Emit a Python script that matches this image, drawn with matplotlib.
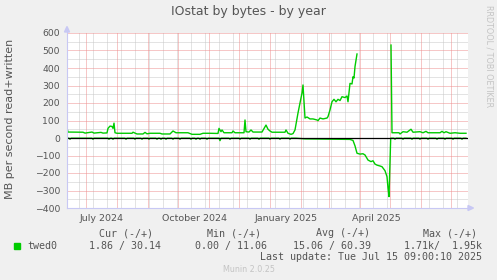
import datetime as dt
import numpy as np
import matplotlib
matplotlib.use("Agg")
import matplotlib.pyplot as plt
from matplotlib.transforms import Affine2D
from matplotlib.patches import Polygon, Rectangle
from matplotlib.lines import Line2D

# day 0 = left edge of the graph
start = dt.date(2024, 6, 12)

# written (+) side, MB/s
written_day = [0, 1, 16, 18, 25, 27, 34, 36, 40, 41, 43, 45, 46, 47, 48, 50,
               65, 66, 68, 70, 76, 78, 80, 83, 93, 95, 103, 106, 109, 121, 125,
               133, 136, 143, 151, 152, 154, 155, 157, 165, 166, 168, 177, 178,
               179, 182, 184, 186, 195, 199, 201, 203, 205, 218, 219, 221, 224,
               226, 228, 231, 235, 236, 238, 240, 243, 246, 250, 251, 253, 256,
               260, 261, 263, 265, 267, 269, 271, 273, 275, 278, 280, 281, 283,
               285, 286, 287, 288, 290, 291, 324, 325, 332, 333, 336, 340, 344,
               346, 353, 356, 359, 361, 373, 375, 377, 379, 383, 388, 393, 399]
written_mb = [57, 34, 33, 28, 34, 28, 32, 28, 29, 55, 68, 66, 55, 85, 30, 27,
              27, 33, 28, 23, 23, 32, 24, 27, 27, 23, 23, 40, 30, 30, 21,
              21, 27, 27, 26, 55, 36, 46, 30, 30, 40, 30, 30, 103,
              36, 34, 46, 34, 34, 74, 50, 40, 33, 33, 46, 27, 21,
              25, 46, 143, 257, 303, 114, 120, 109, 109, 103, 99, 114, 109,
              114, 122, 160, 207, 221, 207, 221, 214, 236, 231, 240, 207, 312,
              309, 350, 343, 408, 480, np.nan, 531, 30, 30, 23, 36, 33, 50,
              33, 36, 30, 38, 30, 30, 38, 30, 36, 27, 30, 27, 27]

# read (-) side, MB/s
read_day = [0, 2, 3, 4, 25, 26, 27, 41, 42, 43, 45, 46, 47, 58, 59, 60, 67, 68,
            69, 74, 75, 76, 81, 82, 83, 89, 90, 91, 93, 94, 95, 98, 99, 100,
            105, 106, 107, 112, 113, 114, 123, 124, 125, 128, 129, 130, 132,
            133, 134, 139, 140, 141, 152, 153, 154, 162, 163, 164, 172, 173,
            174, 182, 183, 184, 191, 192, 193, 202, 203, 204, 212, 213, 214,
            222, 223, 224, 229, 238, 283, 286, 288, 290, 293, 296, 298, 301,
            304, 306, 308, 310, 313, 315, 318, 320, 321, 322, 323.7, 327, 328,
            329, 335, 336, 337, 344, 345, 346, 352, 353, 354, 360, 361, 362,
            369, 370, 371, 377, 378, 379, 385, 386, 387, 394, 395, 396, 399]
read_mb = [-1, -1, -7, -1, -1, -7, -1, -1, -7, -1, -1, -7, -1, -1, -7, -1, -1, -7,
           -1, -1, -7, -1, -1, -7, -1, -1, -7, -1, -1, -7, -1, -1, -7, -1,
           -1, -7, -1, -1, -7, -1, -1, -7, -1, -1, -7, -1, -1,
           -7, -1, -1, -7, -1, -1, -15, -1, -1, -7, -1, -1, -7,
           -1, -1, -7, -1, -1, -7, -1, -1, -7, -1, -1, -7, -1,
           -1, -7, -1, -1, -5, -8, -14, -45, -87, -92, -90, -97, -126,
           -135, -130, -149, -155, -160, -164, -187, -221, -286, -335, -1, -1, -7,
           -1, -1, -7, -1, -1, -7, -1, -1, -7, -1, -1, -7, -1,
           -1, -7, -1, -1, -7, -1, -1, -7, -1, -1, -7, -1, -1]

yticks = [-400, -300, -200, -100, 0, 100, 200, 300, 400, 500, 600]
label_months = [dt.date(2024, 7, 1), dt.date(2024, 10, 1), dt.date(2025, 1, 1), dt.date(2025, 4, 1)]
month_labels = ["July 2024", "October 2024", "January 2025", "April 2025"]

legend_head = ["Cur (-/+)", "Min (-/+)", "Avg (-/+)", "Max (-/+)"]
legend_vals = ["1.86 / 30.14", "0.00 / 11.06", "15.06 / 60.39", "1.71k/  1.95k"]

txt = "#555555"
green = "#00CC00"
red_grid = "#EE9090"
gray_grid = "#C8C8C8"
axis_col = "#C8C8F4"

fig = plt.figure(figsize=(4.97, 2.80), dpi=100, facecolor="#F0F0F0")
ax = fig.add_axes([67 / 497, 72 / 280, 401 / 497, 175 / 280], facecolor="white")
ax.set_xlim(0, 401)
ax.set_ylim(-400, 600)
for s in ax.spines.values():
    s.set_visible(False)

dots = (0, (1, 1))
for d in range(12, 401, 14):
    ax.axvline(d, color=gray_grid, lw=0.72, ls=dots, zorder=1)
for v in range(-350, 600, 100):
    ax.axhline(v, color=gray_grid, lw=0.72, ls=dots, zorder=1)
month_starts = []
y, m = 2024, 7
while (y, m) <= (2025, 7):
    month_starts.append((dt.date(y, m, 1) - start).days)
    m += 1
    if m > 12:
        y, m = y + 1, 1
for d in month_starts:
    ax.axvline(d, color=red_grid, lw=0.72, ls=dots, zorder=2)
for v in yticks[1:]:
    ax.axhline(v, color=red_grid, lw=0.72, ls=dots, zorder=2)

ax.plot(read_day, read_mb, color=green, lw=1.0, zorder=3)
ax.plot(written_day, written_mb, color=green, lw=1.0, zorder=3)
ax.axhline(0, color="black", lw=0.9, zorder=4)

ax.set_yticks(yticks)
ax.set_xticks([(d - start).days + 16 for d in label_months], month_labels)
ax.tick_params(axis="y", length=0, pad=5, labelsize=6.7, labelcolor=txt)
ax.tick_params(axis="x", length=0, pad=4, labelsize=6.8, labelcolor=txt)

# pixel coordinates, origin top-left
pxt = Affine2D().scale(1 / 497, -1 / 280).translate(0, 1) + fig.transFigure
fig.add_artist(Line2D([67, 67], [208, 30], transform=pxt, color=axis_col, lw=0.8))
fig.add_artist(Polygon([[64.5, 32], [69.5, 32], [67, 26.5]], transform=pxt, color=axis_col))
fig.add_artist(Line2D([67, 470], [208, 208], transform=pxt, color=axis_col, lw=0.8))
fig.add_artist(Polygon([[468, 205.5], [468, 210.5], [473.5, 208]], transform=pxt, color=axis_col))

fig.text(248, 12, "IOstat by bytes - by year", transform=pxt, ha="center", va="center",
         fontsize=9, color=txt)
fig.text(10, 119, "MB per second read+written", transform=pxt, ha="center", va="center",
         rotation=90, fontsize=8, color=txt)
fig.text(489, 56, "RRDTOOL / TOBI OETIKER", transform=pxt, ha="center", va="center",
         rotation=270, fontsize=5.8, color="#C4C4C4")

mono = "DejaVu Sans Mono"
for s, x in zip(legend_head, [99, 207, 316, 423]):
    fig.text(x, 233, s, transform=pxt, ha="left", va="center", fontsize=7.2, family=mono, color=txt)
fig.add_artist(Rectangle((14, 243), 6, 6, transform=pxt, color=green))
fig.text(27, 246, "twed0", transform=pxt, ha="left", va="center", fontsize=7.2, family=mono, color=txt)
for s, x in zip(legend_vals, [89, 195, 293, 404]):
    fig.text(x, 246, s, transform=pxt, ha="left", va="center", fontsize=7.2, family=mono, color=txt)
fig.text(482, 257, "Last update: Tue Jul 15 09:00:10 2025", transform=pxt, ha="right", va="center",
         fontsize=7.2, family=mono, color=txt)
fig.text(249, 269, "Munin 2.0.25", transform=pxt, ha="center", va="center", fontsize=5.8, color="#C4C4C4")

fig.savefig("out.png", dpi=100, facecolor=fig.get_facecolor())
